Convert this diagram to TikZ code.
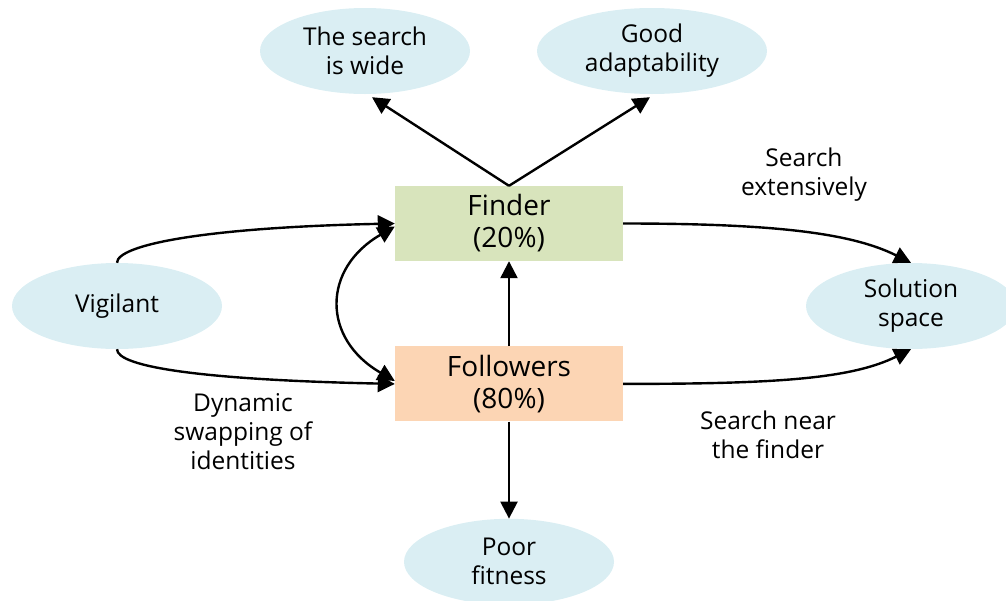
\documentclass[tikz,border=0pt]{standalone}
\usepackage{fontspec}
\setmainfont{Open Sans}
\usetikzlibrary{arrows.meta,positioning,shapes.geometric}
\definecolor{finderGreen}{HTML}{D8E4BC}
\definecolor{followPeach}{HTML}{FCD5B4}
\definecolor{blobBlue}{HTML}{DAEEF3}

\begin{document}
\begin{tikzpicture}[
    x=1pt, y=1pt,
    box/.style={minimum width=228pt, minimum height=75pt, inner sep=0pt, align=center, font=\fontsize{28}{32}\selectfont},
    blob/.style={ellipse, fill=blobBlue, minimum width=210pt, minimum height=86pt, inner sep=0pt, align=center, font=\fontsize{24.5}{29}\selectfont},
    note/.style={align=center, font=\fontsize{24.5}{29}\selectfont},
    arrow/.style={-{Triangle[length=17pt, width=17pt]}, line width=2.4pt}
  ]
    \useasboundingbox (0,0) rectangle (1006,-600);

    \node[box, fill=finderGreen] (finder) at (509,-223.5) {Finder\\(20\%)};
    \node[box, fill=followPeach, below=85pt of finder] (followers) {Followers\\(80\%)};

    \node[blob] (wide) at (365,-51) {The search\\is wide};
    \node[blob, minimum width=230pt] (adapt) at (652,-51) {Good\\adaptability};
    \node[blob] (vigil) at (117,-306) {Vigilant};
    \node[blob] (space) at (911,-306) {Solution\\space};
    \node[blob, below=97pt of followers] (poor) {Poor\\fitness};

    \node[note] (extensive) at (804,-175) {Search\\extensively};
    \node[note] (near) at (768,-435) {Search near\\the finder};
    \node[note] (swap) at (243,-432) {Dynamic\\swapping of\\identities};

    % finder fans out upwards
    \draw[arrow] (finder.north) -- ([shift={(7,-3)}]wide.south);
    \draw[arrow] (finder.north) -- ([shift={(-2,-3)}]adapt.south);

    % vigilant feeds both groups
    \draw[arrow] (vigil.north) .. controls +(0,18) and +(-190,-4) .. (finder.west);
    \draw[arrow] (vigil.south) .. controls +(0,-18) and +(-190,4) .. (followers.west);
    \draw[{Triangle[length=17pt, width=17pt]}-{Triangle[length=17pt, width=17pt]}, line width=2.4pt]
      ([yshift=-3pt]finder.west) to[out=210, in=150, looseness=1.4] ([yshift=3pt]followers.west);

    \draw[arrow] (followers) -- (finder);
    \draw[arrow] (followers) -- (poor);

    % both groups search the solution space
    \draw[arrow] (finder.east) .. controls +(150,0) and +(-60,30) .. (space.north);
    \draw[arrow] (followers.east) .. controls +(150,0) and +(-60,-30) .. (space.south);
  \end{tikzpicture}
\end{document}
